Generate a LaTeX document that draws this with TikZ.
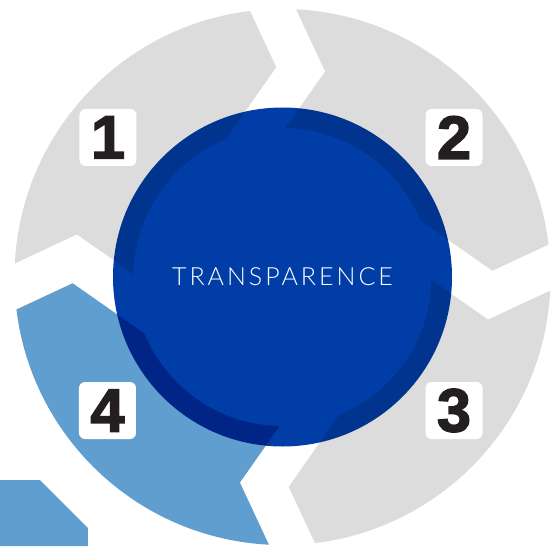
\documentclass[tikz,border=0pt]{standalone}
\usepackage{fontspec}
\setmainfont{Liberation Sans}
\IfFontExistsTF{Lato Light}
  {\newfontfamily\thinfont{Lato Light}[LetterSpace=12]}
  {\newfontfamily\thinfont{Liberation Sans}[LetterSpace=6]}
\newfontfamily\digitfont{Liberation Sans Bold}[FakeBold=2.5]
\usetikzlibrary{positioning, calc}
\definecolor{ringgrey}{HTML}{DCDCDC}
\definecolor{ringblue}{HTML}{5F9ECF}
\definecolor{hubblue}{HTML}{003DA6}
\definecolor{digitink}{HTML}{231F20}

\begin{document}
\begin{tikzpicture}
  [x=1pt, y=1pt,
   numbox/.style={rectangle,rounded corners=6pt,fill=white,minimum size=57pt,inner sep=0pt,
     text=digitink,font=\digitfont\fontsize{61}{61}\selectfont},
   hub/.style={circle,fill=hubblue,minimum size=339pt,inner sep=0pt,blend mode=multiply},
   title/.style={text=white,font=\thinfont\fontsize{25}{25}\selectfont}]
  \useasboundingbox (-282.5,-269) rectangle (270.5,277);
  \foreach \g [count=\i] in {85,-5,-95,175}{
    \begin{scope}[rotate=\g-90]
      \coordinate (t\i o) at (-76.5,298.5);
      \coordinate (t\i m) at (-24.5,208.5);
      \coordinate (t\i n) at (-76.5,118.5);
      \coordinate (n\i o) at (-27.5,298.5);
      \coordinate (n\i m) at (24.5,208.5);
      \coordinate (n\i n) at (-27.5,118.5);
    \end{scope}
  }
  \begin{scope}
    \clip (0,0) circle (268);
    \foreach \i/\p/\a/\c in {1/4/130/ringgrey, 2/1/40/ringgrey, 3/2/-50/ringgrey, 4/3/-140/ringblue}
      \fill[\c] (0,0) -- (n\p n) -- (n\p m) -- (n\p o) -- (\a:420)
        -- (t\i o) -- (t\i m) -- (t\i n) -- cycle;
    \fill[white] (0,0) circle (149);
  \end{scope}
  \fill[ringblue] (-282.5,-203) -- (-242.5,-203) -- (-194.5,-251) -- (-194.5,-269)
    -- (-282.5,-269) -- cycle;
  \node (core) at (0,0) [hub] {};
  \node (label) at (core.center) [title] {TRANSPARENCE};
  \node (s1) at (-174.5,139.5) [numbox] {1};
  \node (s2) at (171.5,139.5) [numbox] {2};
  \node (s3) at (171.5,-133.5) [numbox] {3};
  \node (s4) at (-175,-133.5) [numbox] {4};
\end{tikzpicture}
\end{document}
